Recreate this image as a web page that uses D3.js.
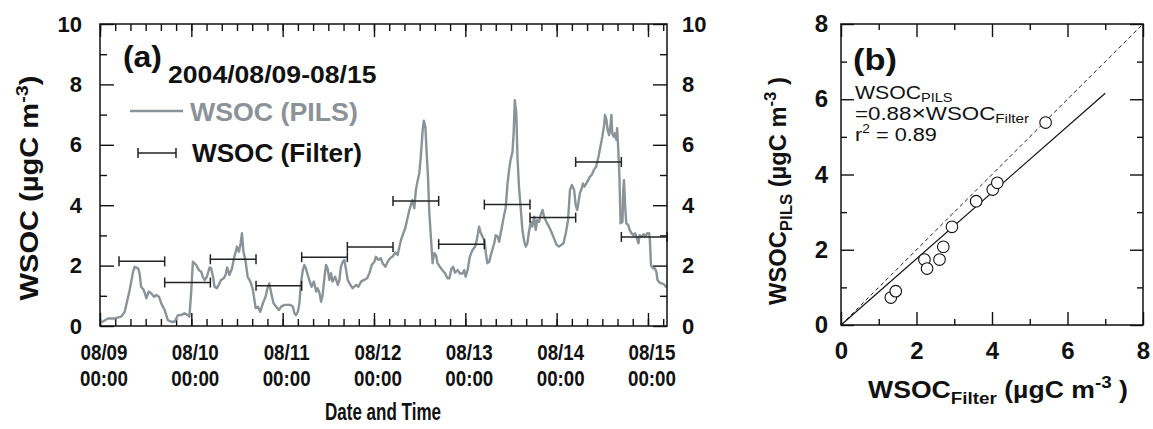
<!DOCTYPE html>
<html>
<head>
<meta charset="utf-8">
<script src="https://cdn.jsdelivr.net/npm/d3@7"></script>
<style>
body { margin: 0; background: #fff; }
text { font-family: "Liberation Sans", Arial, sans-serif; }
</style>
</head>
<body>
<svg id="chart" width="1153" height="429"></svg>
<script>
// PILS trace, hours since 2004/08/09 00:00 and WSOC (ugC m-3)
var pilsHours = [0.2, 2.1, 3.9, 5.6, 6.5, 7.8, 8.7, 9.1, 10.0, 10.4, 10.8, 11.5, 12.2, 12.8, 13.5, 14.2, 14.8, 15.5, 16.1, 17.0,
    17.8, 18.7, 19.6, 20.5, 21.3, 22.2, 23.1, 23.5, 24.0, 24.4, 25.3, 26.0, 26.6, 27.0, 27.5, 28.1, 28.8, 29.2, 29.7, 30.1,
    30.7, 31.2, 31.8, 32.5, 33.0, 33.4, 34.0, 34.7, 35.3, 36.0, 36.5, 36.9, 37.3, 37.7, 38.2, 38.8, 39.3, 39.7, 40.2, 40.9,
    41.5, 42.1, 42.8, 43.5, 44.0, 44.5, 45.0, 45.6, 46.3, 47.0, 47.6, 48.5, 49.3, 50.0, 50.7, 51.1, 51.5, 52.0, 52.4, 52.8,
    53.3, 53.7, 54.1, 54.6, 55.0, 55.6, 56.2, 56.8, 57.2, 57.7, 58.1, 58.5, 59.0, 59.4, 59.8, 60.3, 60.7, 61.1, 61.8, 62.5,
    62.9, 63.3, 63.8, 64.2, 64.6, 65.1, 65.8, 66.4, 67.3, 67.9, 68.6, 69.3, 70.2, 70.8, 71.4, 72.1, 72.5, 73.1, 73.8, 74.3,
    75.0, 75.6, 76.2, 76.9, 77.6, 78.2, 78.7, 79.1, 79.7, 80.2, 80.8, 81.3, 81.7, 82.1, 82.6, 83.0, 83.5, 83.9, 84.3, 84.8,
    85.1, 85.5, 85.8, 86.2, 86.5, 87.0, 87.4, 87.8, 88.3, 88.7, 89.3, 90.0, 90.7, 91.3, 91.8, 92.4, 92.8, 93.3, 94.0, 94.6,
    95.3, 95.7, 96.1, 96.6, 97.2, 97.9, 98.6, 99.2, 99.6, 100.0, 100.5, 101.0, 101.4, 101.8, 102.3, 102.7, 103.1, 103.6, 104.0, 104.5,
    104.9, 105.3, 105.8, 106.2, 106.6, 107.1, 107.5, 107.9, 108.4, 108.7, 109.0, 109.4, 109.7, 110.1, 110.6, 111.0, 111.5, 111.9, 112.3, 112.8,
    113.2, 113.6, 114.1, 114.5, 114.9, 115.4, 115.8, 116.3, 116.7, 117.3, 118.0, 118.6, 119.3, 120.0, 120.6, 121.2, 121.8, 122.4, 123.0, 123.5,
    124.0, 124.6, 125.0, 125.4, 125.7, 126.1, 126.6, 126.9, 127.3, 127.8, 128.3, 128.7, 129.2, 129.8, 130.4, 131.0, 131.5, 132.0, 132.5, 132.7,
    133.1, 133.4, 133.8, 134.1, 134.4, 134.6, 135.0, 135.3, 135.7, 135.9, 136.2, 136.5, 136.8, 137.3, 137.5, 137.7, 138.0, 138.3, 138.8, 139.2,
    139.7, 140.1, 140.6, 141.1, 141.5, 141.8, 142.3, 142.9, 143.4, 143.8, 144.3, 144.5, 144.8, 145.3, 145.8, 146.2, 146.5, 147.1, 147.6, 148.1,
    148.7, 149.0];
var pilsValues = [0.11, 0.25, 0.25, 0.31, 0.47, 1.19, 1.80, 1.96, 1.91, 1.75, 1.30, 1.19, 0.92, 1.14, 1.08, 0.97, 1.03, 0.97, 0.75, 0.53,
    0.20, 0.14, 0.14, 0.36, 0.36, 0.42, 0.36, 0.31, 1.19, 2.13, 2.02, 1.85, 1.80, 1.63, 1.52, 1.63, 1.94, 1.91, 1.63, 1.30,
    1.25, 1.36, 1.52, 1.58, 1.69, 1.94, 1.69, 1.91, 2.29, 2.63, 2.46, 2.68, 3.07, 2.46, 2.19, 1.63, 1.52, 1.41, 1.19, 0.59,
    0.64, 0.47, 0.75, 0.97, 1.25, 1.41, 1.08, 0.75, 0.64, 0.53, 0.64, 0.70, 0.70, 0.70, 0.64, 0.42, 0.36, 0.47, 0.75, 1.41,
    1.85, 2.02, 1.91, 1.69, 1.52, 1.30, 1.47, 1.14, 1.25, 1.08, 0.80, 1.03, 1.63, 2.02, 1.91, 1.52, 1.75, 1.47, 1.63, 1.36,
    1.52, 1.96, 2.13, 2.19, 1.91, 1.52, 1.36, 1.25, 1.36, 1.30, 1.47, 1.52, 1.58, 1.75, 2.02, 2.13, 2.29, 2.19, 2.24, 2.07,
    1.96, 2.13, 2.24, 2.30, 2.43, 2.35, 2.63, 2.85, 3.07, 3.23, 3.57, 3.84, 4.01, 4.17, 3.90, 4.50, 4.83, 5.06, 5.61, 6.49,
    6.80, 6.60, 5.83, 4.94, 3.84, 2.85, 2.08, 2.41, 2.35, 2.08, 1.96, 1.85, 1.74, 1.58, 1.58, 1.91, 1.96, 1.77, 1.85, 1.74,
    1.74, 1.85, 1.63, 1.85, 2.30, 2.52, 2.63, 2.96, 3.29, 3.10, 2.96, 2.85, 2.41, 2.08, 2.13, 2.35, 2.52, 2.74, 3.01, 2.96,
    2.79, 3.07, 3.40, 3.68, 3.90, 4.72, 5.17, 5.50, 5.77, 6.38, 7.48, 7.04, 5.61, 4.61, 3.84, 3.18, 2.79, 2.63, 2.74, 3.18,
    3.45, 3.29, 3.62, 3.18, 3.51, 3.45, 3.68, 3.84, 3.62, 3.45, 3.29, 3.12, 2.90, 2.68, 2.63, 2.68, 2.74, 3.07, 3.51, 4.50,
    4.67, 4.50, 4.01, 3.84, 4.06, 4.39, 4.56, 4.72, 4.61, 4.72, 4.83, 4.94, 5.00, 5.17, 5.28, 5.61, 5.94, 6.27, 6.66, 6.99,
    6.82, 6.49, 6.32, 6.60, 6.99, 6.38, 6.27, 6.38, 6.16, 6.55, 5.83, 4.94, 3.40, 3.45, 4.50, 4.83, 3.95, 3.40, 3.35, 3.18,
    3.07, 3.01, 3.07, 2.90, 2.74, 3.01, 2.96, 3.04, 2.96, 3.07, 3.07, 2.85, 2.01, 1.91, 1.91, 1.80, 1.52, 1.43, 1.41, 1.39,
    1.30, 1.32];

// 12-hour filter samples: start hour and WSOC
var filterStartHours = [5, 17, 29, 41, 53, 65, 77, 89, 101, 113, 125, 137];
var filterValues = [2.14, 1.44, 2.21, 1.33, 2.28, 2.62, 4.14, 2.71, 4.02, 3.59, 5.43, 2.95];

// scatter (b)
var scatterFilter = [1.32, 1.45, 2.21, 2.28, 2.61, 2.71, 2.94, 3.58, 4.02, 4.14, 5.42];
var scatterPils = [0.73, 0.90, 1.74, 1.50, 1.74, 2.08, 2.61, 3.29, 3.60, 3.78, 5.38];
var fitSlope = 0.88;
var fitRange = [0, 7];

var dayLabels = ["08/09", "08/10", "08/11", "08/12", "08/13", "08/14", "08/15"];
var yTicksA = [0, 2, 4, 6, 8, 10];
var ticksB = [0, 2, 4, 6, 8];

var lineGray = "#8b9398";
var t0 = new Date(2004, 7, 9, 0, 0);
function hoursToDate(h) { return new Date(t0.getTime() + h * 3600 * 1000); }

// squeeze/stretch a text horizontally to the width it has in the figure
function fitWidth(sel, w, anchor) {
    var bb = sel.node().getBBox();
    var k = w / bb.width;
    var cx = anchor == "middle" ? bb.x + bb.width / 2 : bb.x;
    var old = sel.attr("transform") || "";
    sel.attr("transform", old + " translate(" + (cx * (1 - k)) + ",0) scale(" + k + ",1)");
}

var svg = d3.select("#chart");

// ---------- panel (a) ----------
var xScale = d3.scaleTime()
    .domain([t0, hoursToDate(149)])
    .range([100, 667]);
var yScale = d3.scaleLinear()
    .domain([0, 10])
    .range([326, 24]);

var a = svg.append("g");

function styleAxis(g) {
    g.select(".domain").remove();
    g.selectAll("line").attr("stroke", "#111").attr("stroke-width", 1.4);
    g.selectAll("text").attr("font-family", "Liberation Sans, Arial, sans-serif")
        .attr("font-size", 22).attr("font-weight", "bold").attr("fill", "#111");
}

// minor ticks every 4 h, majors every day (bottom and top)
var minorHours = d3.timeHour.every(4).range(t0, hoursToDate(149.5));
var majorDays = d3.timeDay.range(t0, hoursToDate(149.5));
a.append("g").attr("transform", "translate(0,326)")
    .call(d3.axisBottom(xScale).tickValues(minorHours).tickSize(-7).tickFormat("")).call(styleAxis);
a.append("g").attr("transform", "translate(0,326)")
    .call(d3.axisBottom(xScale).tickValues(majorDays).tickSize(-13).tickFormat("")).call(styleAxis);
a.append("g").attr("transform", "translate(0,24)")
    .call(d3.axisTop(xScale).tickValues(minorHours).tickSize(-7).tickFormat("")).call(styleAxis);
a.append("g").attr("transform", "translate(0,24)")
    .call(d3.axisTop(xScale).tickValues(majorDays).tickSize(-13).tickFormat("")).call(styleAxis);

// y: major labelled on both sides, minor at odd values
a.append("g").attr("transform", "translate(100,0)")
    .call(d3.axisLeft(yScale).tickValues([1, 3, 5, 7, 9]).tickSize(-7).tickFormat("")).call(styleAxis);
a.append("g").attr("transform", "translate(100,0)")
    .call(d3.axisLeft(yScale).tickValues(yTicksA).tickSize(-14).tickPadding(18).tickFormat(d3.format("d"))).call(styleAxis);
a.append("g").attr("transform", "translate(667,0)")
    .call(d3.axisRight(yScale).tickValues([1, 3, 5, 7, 9]).tickSize(-7).tickFormat("")).call(styleAxis);
a.append("g").attr("transform", "translate(667,0)")
    .call(d3.axisRight(yScale).tickValues(yTicksA).tickSize(-14).tickPadding(15).tickFormat(d3.format("d"))).call(styleAxis);

// date labels, two lines in one text, condensed like the figure
majorDays.forEach(function(d, i) {
    var cx = xScale(d) + 4;
    var t = a.append("text").attr("text-anchor", "middle")
        .attr("font-size", 22).attr("font-weight", "bold").attr("fill", "#111");
    t.append("tspan").attr("x", cx).attr("y", 360).text(dayLabels[i]);
    t.append("tspan").attr("x", cx).attr("y", 386).text("00:00");
    fitWidth(t, 48, "middle");
});

var xt = a.append("text")
    .attr("x", 383).attr("y", 420)
    .attr("text-anchor", "middle")
    .attr("font-size", 23).attr("font-weight", "bold").attr("fill", "#111")
    .text("Date and Time");
fitWidth(xt, 116, "middle");

var ylab = a.append("text")
    .attr("transform", "translate(38,188) rotate(-90)")
    .attr("text-anchor", "middle")
    .attr("font-size", 25).attr("font-weight", "bold").attr("fill", "#111");
ylab.append("tspan").text("WSOC (µgC m");
ylab.append("tspan").attr("font-size", 17).attr("dy", -10).text("-3");
ylab.append("tspan").attr("dy", 10).text(")");
fitWidth(ylab, 225, "middle");

// PILS trace
var pilsData = pilsHours.map(function(h, i) { return { t: hoursToDate(h), v: pilsValues[i] }; });
var line = d3.line()
    .x(function(d) { return xScale(d.t); })
    .y(function(d) { return yScale(d.v); });
a.append("path")
    .datum(pilsData)
    .attr("d", line)
    .attr("fill", "none")
    .attr("stroke", lineGray)
    .attr("stroke-width", 2.4)
    .attr("stroke-linejoin", "round");

// filter bars
var filterData = filterStartHours.map(function(h, i) {
    return { t0: hoursToDate(h), t1: hoursToDate(h + 12), v: filterValues[i] };
});
var bars = a.selectAll(".fbar")
    .data(filterData)
    .enter()
    .append("g")
    .attr("class", "fbar")
    .attr("stroke", "#222")
    .attr("stroke-width", 1.5);
bars.append("line")
    .attr("x1", function(d) { return xScale(d.t0); })
    .attr("x2", function(d) { return xScale(d.t1); })
    .attr("y1", function(d) { return yScale(d.v); })
    .attr("y2", function(d) { return yScale(d.v); });
bars.append("line")
    .attr("x1", function(d) { return xScale(d.t0); })
    .attr("x2", function(d) { return xScale(d.t0); })
    .attr("y1", function(d) { return yScale(d.v) - 5; })
    .attr("y2", function(d) { return yScale(d.v) + 5; });
bars.append("line")
    .attr("x1", function(d) { return xScale(d.t1); })
    .attr("x2", function(d) { return xScale(d.t1); })
    .attr("y1", function(d) { return yScale(d.v) - 5; })
    .attr("y2", function(d) { return yScale(d.v) + 5; });

a.append("rect")
    .attr("x", 100).attr("y", 24).attr("width", 567).attr("height", 302)
    .attr("fill", "none").attr("stroke", "#111").attr("stroke-width", 1.5);

// legend / annotations
var ta = a.append("text").attr("x", 123).attr("y", 67)
    .attr("font-size", 29).attr("font-weight", "bold").attr("fill", "#111").text("(a)");
fitWidth(ta, 39);
var tt = a.append("text").attr("x", 168).attr("y", 83)
    .attr("font-size", 23).attr("font-weight", "bold").attr("fill", "#111").text("2004/08/09-08/15");
fitWidth(tt, 209);
a.append("line").attr("x1", 130).attr("x2", 183).attr("y1", 111).attr("y2", 111)
    .attr("stroke", lineGray).attr("stroke-width", 2.4);
var tp = a.append("text").attr("x", 190).attr("y", 121)
    .attr("font-size", 25).attr("font-weight", "bold").attr("fill", lineGray).text("WSOC (PILS)");
fitWidth(tp, 168);
var lg = a.append("g").attr("stroke", "#222").attr("stroke-width", 1.5);
lg.append("line").attr("x1", 138).attr("x2", 176).attr("y1", 153).attr("y2", 153);
lg.append("line").attr("x1", 138).attr("x2", 138).attr("y1", 148).attr("y2", 158);
lg.append("line").attr("x1", 176).attr("x2", 176).attr("y1", 148).attr("y2", 158);
var tf = a.append("text").attr("x", 192).attr("y", 162)
    .attr("font-size", 25).attr("font-weight", "bold").attr("fill", "#111").text("WSOC (Filter)");
fitWidth(tf, 170);

// ---------- panel (b) ----------
var sx = d3.scaleLinear().domain([0, 8]).range([841, 1143]);
var sy = d3.scaleLinear().domain([0, 8]).range([325, 24]);
var b = svg.append("g");

function styleAxisB(g) {
    styleAxis(g);
    g.selectAll("text").attr("font-size", 24);
}

b.append("g").attr("transform", "translate(0,325)")
    .call(d3.axisBottom(sx).tickValues([1, 3, 5, 7]).tickSize(-6).tickFormat("")).call(styleAxisB);
b.append("g").attr("transform", "translate(0,325)")
    .call(d3.axisBottom(sx).tickValues(ticksB).tickSize(-13).tickPadding(17).tickFormat(d3.format("d"))).call(styleAxisB);
b.append("g").attr("transform", "translate(0,24)")
    .call(d3.axisTop(sx).tickValues([1, 3, 5, 7]).tickSize(-6).tickFormat("")).call(styleAxisB);
b.append("g").attr("transform", "translate(0,24)")
    .call(d3.axisTop(sx).tickValues(ticksB).tickSize(-13).tickFormat("")).call(styleAxisB);
b.append("g").attr("transform", "translate(841,0)")
    .call(d3.axisLeft(sy).tickValues([1, 3, 5, 7]).tickSize(-6).tickFormat("")).call(styleAxisB);
b.append("g").attr("transform", "translate(841,0)")
    .call(d3.axisLeft(sy).tickValues(ticksB).tickSize(-13).tickPadding(13).tickFormat(d3.format("d"))).call(styleAxisB);
b.append("g").attr("transform", "translate(1143,0)")
    .call(d3.axisRight(sy).tickValues([1, 3, 5, 7]).tickSize(-6).tickFormat("")).call(styleAxisB);
b.append("g").attr("transform", "translate(1143,0)")
    .call(d3.axisRight(sy).tickValues(ticksB).tickSize(-13).tickFormat("")).call(styleAxisB);

b.append("rect")
    .attr("x", 841).attr("y", 24).attr("width", 302).attr("height", 301)
    .attr("fill", "none").attr("stroke", "#111").attr("stroke-width", 1.5);

// 1:1 line and fit
b.append("line")
    .attr("x1", sx(0)).attr("y1", sy(0)).attr("x2", sx(8)).attr("y2", sy(8))
    .attr("stroke", "#222").attr("stroke-width", 1).attr("stroke-dasharray", "4,3");
b.append("line")
    .attr("x1", sx(fitRange[0])).attr("y1", sy(fitRange[0] * fitSlope))
    .attr("x2", sx(fitRange[1])).attr("y2", sy(fitRange[1] * fitSlope))
    .attr("stroke", "#111").attr("stroke-width", 1.2);

b.selectAll("circle")
    .data(scatterFilter)
    .enter()
    .append("circle")
    .attr("cx", function(d) { return sx(d); })
    .attr("cy", function(d, i) { return sy(scatterPils[i]); })
    .attr("r", 5.8)
    .attr("fill", "#fff")
    .attr("stroke", "#111")
    .attr("stroke-width", 1.1);

var tb = b.append("text").attr("x", 853).attr("y", 70)
    .attr("font-size", 30).attr("font-weight", "bold").attr("fill", "#111").text("(b)");
fitWidth(tb, 44);
var e1 = b.append("text").attr("x", 855).attr("y", 99).attr("font-size", 19).attr("fill", "#111");
e1.append("tspan").text("WSOC");
e1.append("tspan").attr("font-size", 13).attr("dy", 3).text("PILS");
fitWidth(e1, 98);
var e2 = b.append("text").attr("x", 855).attr("y", 120).attr("font-size", 19).attr("fill", "#111");
e2.append("tspan").text("=0.88");
e2.append("tspan").attr("font-size", 21).text("\u00d7");
e2.append("tspan").text("WSOC");
e2.append("tspan").attr("font-size", 13).attr("dy", 3).text("Filter");
fitWidth(e2, 175);
var e3 = b.append("text").attr("x", 855).attr("y", 141).attr("font-size", 19).attr("fill", "#111");
e3.append("tspan").text("r");
e3.append("tspan").attr("font-size", 12).attr("dy", -8).text("2");
e3.append("tspan").attr("dy", 8).text(" = 0.89");
fitWidth(e3, 82);

var xlb = b.append("text")
    .attr("x", 998).attr("y", 398)
    .attr("text-anchor", "middle")
    .attr("font-size", 24).attr("font-weight", "bold").attr("fill", "#111");
xlb.append("tspan").text("WSOC");
xlb.append("tspan").attr("font-size", 17).attr("dy", 6).text("Filter");
xlb.append("tspan").attr("dy", -6).text(" (µgC m");
xlb.append("tspan").attr("font-size", 17).attr("dy", -10).text("-3");
xlb.append("tspan").attr("dy", 10).text(" )");
fitWidth(xlb, 260, "middle");

var ylb = b.append("text")
    .attr("transform", "translate(786,191) rotate(-90)")
    .attr("text-anchor", "middle")
    .attr("font-size", 24).attr("font-weight", "bold").attr("fill", "#111");
ylb.append("tspan").text("WSOC");
ylb.append("tspan").attr("font-size", 17).attr("dy", 6).text("PILS");
ylb.append("tspan").attr("dy", -6).text(" (µgC m");
ylb.append("tspan").attr("font-size", 17).attr("dy", -10).text("-3");
ylb.append("tspan").attr("dy", 10).text(" )");
fitWidth(ylb, 228, "middle");
</script>
</body>
</html>
